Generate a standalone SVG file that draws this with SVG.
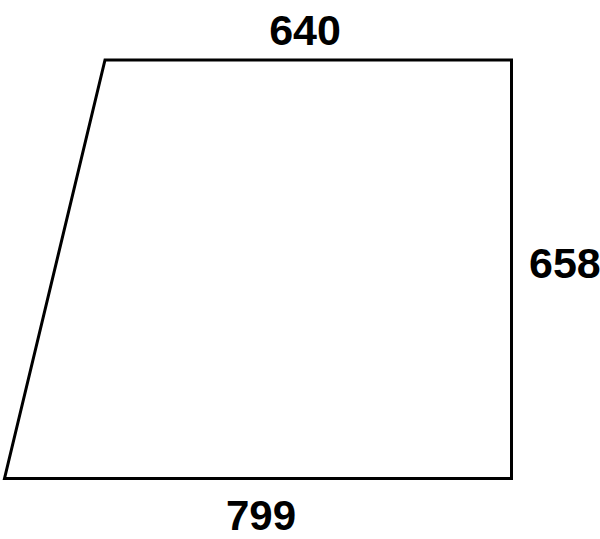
<svg xmlns="http://www.w3.org/2000/svg" width="600" height="539" viewBox="0 0 600 539">
<style>
.lbl{font-family:"Liberation Sans",Arial,sans-serif;font-weight:bold;font-size:43px;fill:#000}
.shape{fill:#fff;stroke:#000;stroke-width:3;stroke-linejoin:miter}
</style>
<rect width="600" height="539" fill="#fff"/>
<g id="shape">
<polygon class="shape" points="105,60 511.5,60 511.5,478.5 4.5,478.5"/>
</g>
<g id="labels">
<text class="lbl" x="305" y="45" text-anchor="middle">640</text>
<text class="lbl" x="529" y="278">658</text>
<text class="lbl" x="261" y="530" text-anchor="middle" style="font-size:42px">799</text>
</g>
</svg>
